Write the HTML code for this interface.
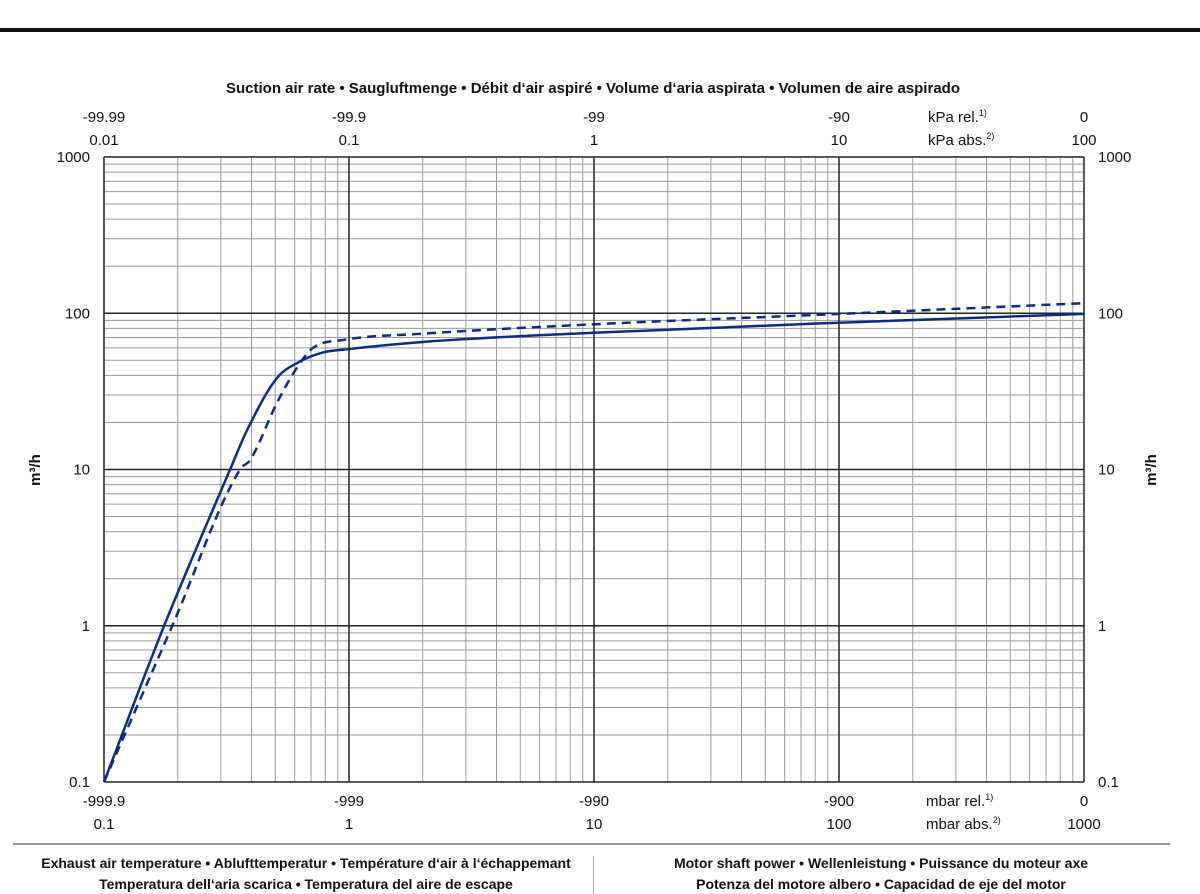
<!DOCTYPE html>
<html><head><meta charset="utf-8"><style>
html,body{margin:0;padding:0;background:#fff;}
svg{display:block;font-family:"Liberation Sans Narrow","Liberation Sans",sans-serif;}
</style></head><body>
<svg id="chart" width="1200" height="894" viewBox="0 0 1200 894" xmlns="http://www.w3.org/2000/svg">
<rect x="0" y="28" width="1200" height="4" fill="#111"/>
<text x="593" y="93" text-anchor="middle" font-size="15" font-weight="bold" fill="#111">Suction air rate  •  Saugluftmenge  •  Débit d‘air aspiré  •  Volume d‘aria aspirata  •  Volumen de aire aspirado</text>
<g id="grid"></g>
<g id="labels"></g>
<g id="series"></g>
<text transform="translate(40,470) rotate(-90)" text-anchor="middle" font-size="15" font-weight="bold" fill="#111">m³/h</text>
<text transform="translate(1156,470) rotate(-90)" text-anchor="middle" font-size="15" font-weight="bold" fill="#111">m³/h</text>
<rect x="13" y="843" width="1157" height="2" fill="#999"/>
<rect x="593" y="856" width="1" height="38" fill="#aaa"/>
<text x="306" y="868" text-anchor="middle" font-size="14" font-weight="bold" fill="#111">Exhaust air temperature  •  Ablufttemperatur  •  Température d‘air à l‘échappemant</text>
<text x="306" y="889" text-anchor="middle" font-size="14" font-weight="bold" fill="#111">Temperatura dell‘aria scarica  •  Temperatura del aire de escape</text>
<text x="881" y="868" text-anchor="middle" font-size="14" font-weight="bold" fill="#111">Motor shaft power  •  Wellenleistung  •  Puissance du moteur axe</text>
<text x="881" y="889" text-anchor="middle" font-size="14" font-weight="bold" fill="#111">Potenza del motore albero  •  Capacidad de eje del motor</text>
</svg>
<script>
const xTickAbs = ["0.1","1","10","100","1000"];
const xTickRel = ["-999.9","-999","-990","-900","0"];
const topTickAbs = ["0.01","0.1","1","10","100"];
const topTickRel = ["-99.99","-99.9","-99","-90","0"];
const yTicks = ["0.1","1","10","100","1000"];
const solidX = [0.1,0.176,0.327,0.384,0.508,0.614,0.78,1,2,10,100,1000];
const solidY = [0.1,1,10,17.9,38.5,48,56,59,65.5,75,87,99];
const dashX = [0.1,0.19,0.359,0.395,0.508,0.614,0.713,0.946,2,10,100,1000];
const dashY = [0.1,1,10,11.5,26.7,45,60,67.5,74,85,99,116];

const NS="http://www.w3.org/2000/svg";
const X0=104,X1=1084,Y0=782,Y1=157;
const xMin=-1,xMax=3,yMin=-1,yMax=3;
function sx(v){return X0+(Math.log10(v)-xMin)/(xMax-xMin)*(X1-X0);}
function sy(v){return Y0-(Math.log10(v)-yMin)/(yMax-yMin)*(Y0-Y1);}
function mk(tag,attrs,parent){const e=document.createElementNS(NS,tag);for(const k in attrs)e.setAttribute(k,attrs[k]);parent.appendChild(e);return e;}
const grid=document.getElementById('grid');
for(let d=xMin;d<xMax;d++){for(let m=2;m<=9;m++){const x=sx(m*Math.pow(10,d));const l=mk('line',{x1:x,x2:x,y1:Y1,y2:Y0,stroke:'#9a9a9a','stroke-width':1},grid);

}}
for(let d=yMin;d<yMax;d++){for(let m=2;m<=9;m++){const y=sy(m*Math.pow(10,d));const l=mk('line',{x1:X0,x2:X1,y1:y,y2:y,stroke:'#9a9a9a','stroke-width':1},grid);

}}
for(let d=xMin;d<=xMax;d++){const x=sx(Math.pow(10,d));const l=mk('line',{x1:x,x2:x,y1:Y1,y2:Y0,stroke:'#222','stroke-width':1.5},grid);

}
for(let d=yMin;d<=yMax;d++){const y=sy(Math.pow(10,d));const l=mk('line',{x1:X0,x2:X1,y1:y,y2:y,stroke:'#222','stroke-width':1.5},grid);

}

const lab=document.getElementById('labels');
function txt(s,x,y,anchor,name,size){const t=mk('text',{x:x,y:y,'text-anchor':anchor,'font-size':size||15,fill:'#111'},lab);t.textContent=s;

return t;}
yTicks.forEach((s,i)=>{const y=sy(parseFloat(s))+5;txt(s,90,y,'end','y-tick-left');txt(s,1098,y,'start','y-tick-right');});
xTickAbs.forEach((s,i)=>{const x=sx(parseFloat(s));txt(xTickRel[i],x,806,'middle','x-tick-rel');txt(s,x,829,'middle','x-tick-abs');});
topTickAbs.forEach((s,i)=>{const x=sx(parseFloat(s)*10);txt(topTickRel[i],x,122,'middle','top-tick-rel');txt(s,x,145,'middle','top-tick-abs');});
function unit(main,sup,x,y,name){const t=mk('text',{x:x,y:y,'text-anchor':'start','font-size':15,fill:'#111'},lab);t.textContent=main;


const s=mk('tspan',{dy:-6,'font-size':9},t);s.textContent=sup;}
unit('kPa rel.','1)',928,122,'top-unit-rel');
unit('kPa abs.','2)',928,145,'top-unit-abs');
unit('mbar rel.','1)',926,806,'bottom-unit-rel');
unit('mbar abs.','2)',926,829,'bottom-unit-abs');

function pathFor(xs,ys){
  const px=xs.map(sx), py=ys.map(sy), n=px.length;
  const dlt=[], m=new Array(n);
  for(let i=0;i<n-1;i++) dlt.push((py[i+1]-py[i])/(px[i+1]-px[i]));
  m[0]=dlt[0]; m[n-1]=dlt[n-2];
  for(let i=1;i<n-1;i++){ m[i]=(dlt[i-1]*dlt[i]<=0)?0:(dlt[i-1]+dlt[i])/2; }
  for(let i=0;i<n-1;i++){
    if(dlt[i]===0){m[i]=0;m[i+1]=0;continue;}
    const a=m[i]/dlt[i], b=m[i+1]/dlt[i], s=a*a+b*b;
    if(s>9){const t=3/Math.sqrt(s);m[i]=t*a*dlt[i];m[i+1]=t*b*dlt[i];}
  }
  let d='M'+px[0]+','+py[0];
  for(let i=0;i<n-1;i++){const h=(px[i+1]-px[i])/3;
    d+=' C'+(px[i]+h)+','+(py[i]+m[i]*h)+' '+(px[i+1]-h)+','+(py[i+1]-m[i+1]*h)+' '+px[i+1]+','+py[i+1];}
  return d;}
const ser=document.getElementById('series');
const s1=mk('path',{d:pathFor(solidX,solidY),fill:'none',stroke:'#0b2b84','stroke-width':2.5},ser);


const s2=mk('path',{d:pathFor(dashX,dashY),fill:'none',stroke:'#0b2b84','stroke-width':2.5,'stroke-dasharray':'9,6'},ser);


</script>
</body></html>
